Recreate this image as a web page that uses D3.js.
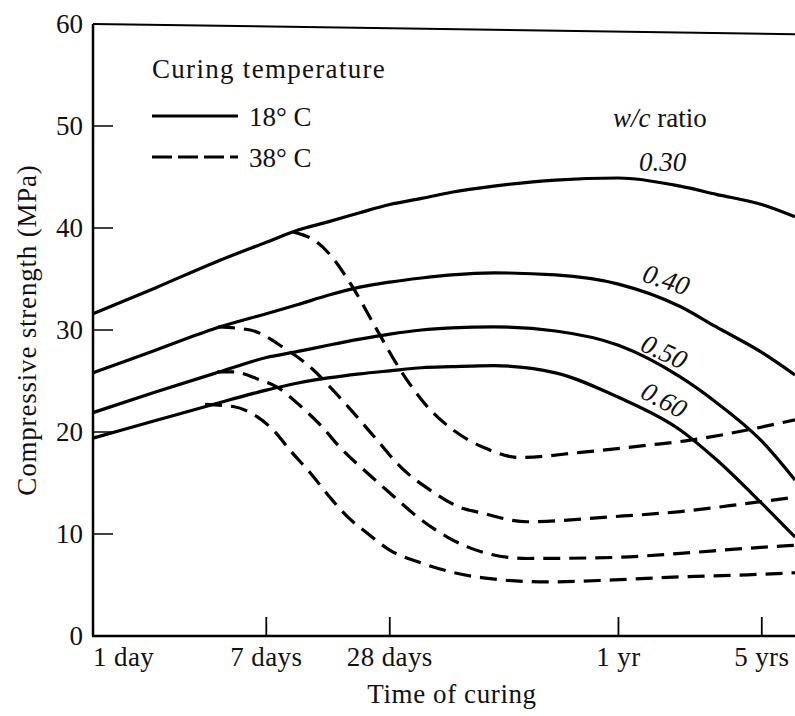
<html>
<head>
<style>
  body { margin: 0; background: #fff; }
  svg { display: block; font-family: "Liberation Serif", "Times New Roman", Times, serif; }
  text { fill: #111; }
</style>
<script src="https://cdn.jsdelivr.net/npm/d3@7"></script>
</head>
<body>
<svg id="chart"></svg>
<script type="text/javascript">

// time of curing (days) where the 18 C curves were read
const days = [1, 2, 4, 7, 10, 14, 20, 28, 40, 56, 90, 180, 365, 730, 1095, 1825, 2650];

// compressive strength, MPa, 18 C curing
const solid030 = [31.6, 34.1, 36.7, 38.6, 39.8, 40.6, 41.5, 42.3, 42.9, 43.5, 44.1, 44.7, 44.9, 44.1, 43.3, 42.3, 41.1];
const solid040 = [25.8, 28.0, 30.2, 31.6, 32.5, 33.4, 34.2, 34.7, 35.1, 35.4, 35.6, 35.4, 34.5, 32.3, 30.3, 27.8, 25.6];
const solid050 = [21.9, 23.9, 25.8, 27.3, 27.9, 28.5, 29.1, 29.6, 30.0, 30.2, 30.3, 29.9, 28.5, 25.4, 22.9, 19.1, 15.3];
const solid060 = [19.4, 21.1, 22.8, 24.1, 24.8, 25.3, 25.7, 26.0, 26.3, 26.4, 26.5, 25.8, 23.4, 20.2, 17.3, 13.0, 9.7];

// 38 C curing, each branching off its 18 C curve
const dashDays030 = [9.5, 12.4, 14.3, 18.6, 23.8, 31.5, 42.6, 57, 80, 121, 238, 505, 819, 1553, 2650];
const dash030 = [39.6, 38.6, 37.4, 34.1, 30.3, 26.1, 22.5, 20.2, 18.5, 17.5, 18.0, 18.7, 19.2, 20.2, 21.2];
const dashDays040 = [4.07, 5.84, 8.46, 11.85, 14.8, 18.6, 24.3, 31.5, 44.1, 61.8, 77.3, 131, 345, 732, 1553, 2650];
const dash040 = [30.3, 30.0, 28.3, 26.1, 24.1, 21.9, 19.2, 16.6, 14.3, 12.6, 12.1, 11.2, 11.7, 12.2, 13.0, 13.6];
const dashDays050 = [4.03, 4.82, 6.53, 7.9, 10.2, 13.1, 16.0, 21.7, 28.1, 38.1, 53.4, 80, 131, 345, 732, 1553, 2650];
const dash050 = [25.9, 25.9, 25.1, 24.4, 22.6, 20.5, 18.5, 16.0, 14.0, 11.7, 9.7, 8.2, 7.6, 7.7, 8.1, 8.6, 8.9];
const dashDays060 = [3.52, 4.82, 6.31, 7.56, 9.15, 11.45, 14.3, 17.4, 21.7, 28.1, 38.1, 55.2, 80, 164, 345, 732, 1553, 2650];
const dash060 = [22.7, 22.5, 21.5, 20.2, 18.2, 16.0, 13.6, 11.7, 10.1, 8.4, 7.3, 6.3, 5.7, 5.3, 5.5, 5.8, 6.0, 6.2];

const ratios = ["0.30", "0.40", "0.50", "0.60"];
const tickDays = [1, 7, 28, 365, 1825];
const tickLabels = ["1 day", "7 days", "28 days", "1 yr", "5 yrs"];
const yTicks = [0, 10, 20, 30, 40, 50, 60];
const legendLabels = ["18\u00b0 C", "38\u00b0 C"];

const width = 795, height = 716;
const fontSize = "27px";
const svg = d3.select("#chart").attr("width", width).attr("height", height);

const x = d3.scaleLog().domain([1, 2650]).range([93, 795]);
const y = d3.scaleLinear().domain([0, 60]).range([636, 24]);

const line = d3.line()
  .x(d => x(d[0]))
  .y(d => y(d[1]))
  .curve(d3.curveMonotoneX);

function zip(xs, ys) { return xs.map((d, i) => [d, ys[i]]); }

const solidSeries = [solid030, solid040, solid050, solid060].map(v => zip(days, v));
const dashSeries = [
  zip(dashDays030, dash030), zip(dashDays040, dash040),
  zip(dashDays050, dash050), zip(dashDays060, dash060)
];

// frame: left axis, bottom axis, top edge
svg.append("line").attr("x1", x(1)).attr("x2", x(1)).attr("y1", y(60)).attr("y2", y(0))
  .attr("stroke", "#000").attr("stroke-width", 2.5);
svg.append("line").attr("x1", x(1) - 1).attr("x2", width).attr("y1", y(0)).attr("y2", y(0))
  .attr("stroke", "#000").attr("stroke-width", 2.5);
svg.append("line").attr("x1", x(1)).attr("x2", width).attr("y1", y(60)).attr("y2", y(59))
  .attr("stroke", "#000").attr("stroke-width", 2);

// y ticks (inward) and labels
svg.selectAll(".ytick").data(yTicks.filter(d => d > 0 && d < 60)).enter()
  .append("line").attr("class", "ytick")
  .attr("x1", x(1)).attr("x2", x(1) + 20)
  .attr("y1", d => y(d)).attr("y2", d => y(d))
  .attr("stroke", "#000").attr("stroke-width", 1.5);
svg.selectAll(".ylab").data(yTicks).enter()
  .append("text").attr("class", "ylab")
  .attr("x", 83).attr("y", d => y(d)).attr("dy", "0.34em")
  .attr("text-anchor", "end").style("font-size", fontSize)
  .text(d => d);

// x ticks (inward) and labels
svg.selectAll(".xtick").data(tickDays.slice(1)).enter()
  .append("line").attr("class", "xtick")
  .attr("x1", d => x(d)).attr("x2", d => x(d))
  .attr("y1", y(0)).attr("y2", y(0) - 19)
  .attr("stroke", "#000").attr("stroke-width", 1.8);
svg.selectAll(".xlab").data(tickDays).enter()
  .append("text").attr("class", "xlab")
  .attr("x", d => x(d)).attr("y", 666)
  .attr("text-anchor", (d, i) => i == 0 ? "start" : "middle")
  .style("font-size", fontSize).style("letter-spacing", "0.4px")
  .text((d, i) => tickLabels[i]);

svg.append("text").attr("x", 452).attr("y", 703).attr("text-anchor", "middle")
  .style("font-size", fontSize).style("letter-spacing", "0.6px")
  .text("Time of curing");

svg.append("text")
  .attr("transform", "translate(36,330) rotate(-90)")
  .attr("text-anchor", "middle")
  .style("font-size", fontSize).style("letter-spacing", "0.8px")
  .text("Compressive strength (MPa)");

// curves
svg.append("g").selectAll("path").data(solidSeries).enter()
  .append("path").attr("d", line)
  .attr("fill", "none").attr("stroke", "#000").attr("stroke-width", 3.2);
svg.append("g").selectAll("path").data(dashSeries).enter()
  .append("path").attr("d", line)
  .attr("fill", "none").attr("stroke", "#000").attr("stroke-width", 3.2)
  .attr("stroke-dasharray", "17,9");

// legend
svg.append("text").attr("x", 152).attr("y", 78)
  .style("font-size", fontSize).style("letter-spacing", "1.3px")
  .text("Curing temperature");
const leg = svg.selectAll(".leg").data(legendLabels).enter()
  .append("g").attr("class", "leg")
  .attr("transform", (d, i) => "translate(152," + (116 + i * 41) + ")");
leg.append("line").attr("x1", 0).attr("x2", 86)
  .attr("stroke", "#000").attr("stroke-width", 3.2)
  .attr("stroke-dasharray", (d, i) => i == 0 ? null : "20,6");
leg.append("text").attr("x", 97).attr("y", 10)
  .style("font-size", fontSize)
  .text(d => d);

// w/c ratio labels
const wc = svg.append("text").attr("x", 613).attr("y", 127).style("font-size", fontSize);
wc.append("tspan").style("font-style", "italic").text("w/c");
wc.append("tspan").text(" ratio");

const labelPos = [[639, 171, 0], [641, 281, 18], [639, 350, 25], [639, 397, 28]];
svg.selectAll(".ratio").data(ratios).enter()
  .append("text").attr("class", "ratio")
  .attr("transform", (d, i) => "translate(" + labelPos[i][0] + "," + labelPos[i][1] + ") rotate(" + labelPos[i][2] + ")")
  .style("font-size", fontSize).style("font-style", "italic")
  .text(d => d);
</script>
</body>
</html>
